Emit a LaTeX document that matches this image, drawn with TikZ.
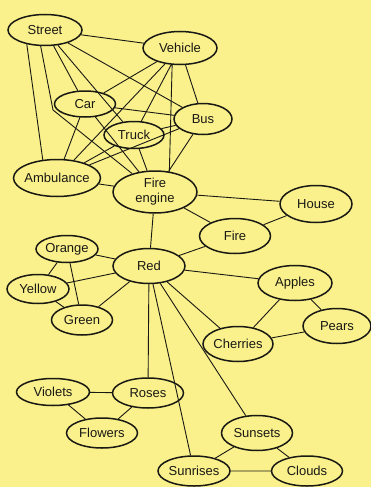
\documentclass[tikz,border=0pt]{standalone}
\usepackage{fontspec}
\setmainfont{Liberation Sans}
\usetikzlibrary{shapes.geometric}
\definecolor{paper}{RGB}{250,240,140}
\definecolor{ink}{RGB}{25,25,20}

\begin{document}
\begin{tikzpicture}[
	x=1pt, y=-1pt,
	word/.style={
		draw=ink, line width=1.5pt, ellipse, fill=paper,
		minimum width=71pt, minimum height=30pt,
		font=\fontsize{13}{15}\selectfont, text=ink, align=center, inner sep=0pt
	},
	link/.style={draw=ink, line width=0.9pt},
	]
	
	\fill[paper] (0,0) rectangle (371,487);
	\useasboundingbox (0,0) rectangle (371,487);
	
	\node[word, minimum width=74pt, minimum height=31pt] (street)  at (45,30)  {Street};
	\node[word, minimum width=74pt, minimum height=33pt] (vehicle) at (180,48) {Vehicle};
	\node[word, minimum width=61pt, minimum height=26pt] (car)     at (85,104) {Car};
	\node[word, minimum width=60pt, minimum height=27pt] (truck)   at (134,135) {Truck};
	\node[word, minimum width=58pt, minimum height=31pt] (bus)     at (203,119) {Bus};
	\node[word, minimum width=87pt, minimum height=37pt, inner xsep=-5pt] (ambulance) at (57,178) {Ambulance};
	\node[word, minimum width=84pt, minimum height=42pt] (fireengine) at (155,192) {Fire\\engine};
	\node[word, minimum width=72pt, minimum height=37pt] (house)   at (316,204) {House};
	\node[word, minimum width=71pt, minimum height=35pt] (fire)    at (235,236) {Fire};
	
	\node[word, minimum width=62pt, minimum height=27pt] (orange)  at (67,249)  {Orange};
	\node[word, minimum width=72pt, minimum height=35pt] (red)     at (149,266) {Red};
	\node[word, minimum width=62pt, minimum height=29pt] (yellow)  at (38,289)  {Yellow};
	\node[word, minimum width=61pt, minimum height=30pt] (green)   at (82,320)  {Green};
	\node[word, minimum width=74pt, minimum height=35pt] (apples)  at (295,283) {Apples};
	\node[word, minimum width=68pt, minimum height=35pt] (pears)   at (337,326) {Pears};
	\node[word, minimum width=70pt, minimum height=35pt] (cherries) at (238,344) {Cherries};
	
	\node[word, minimum width=73pt, minimum height=27pt] (violets) at (53,392)  {Violets};
	\node[word, minimum width=71pt, minimum height=30pt] (roses)   at (148,393) {Roses};
	\node[word, minimum width=71pt, minimum height=30pt] (flowers) at (102,433) {Flowers};
	\node[word, minimum width=71pt, minimum height=35pt] (sunsets) at (257,433) {Sunsets};
	\node[word, minimum width=72pt, minimum height=30pt] (sunrises) at (194,471) {Sunrises};
	\node[word, minimum width=71pt, minimum height=30pt] (clouds)  at (307,471) {Clouds};
	
	\coordinate (kink) at (53,110);
	
	\path[link] (street) -- (vehicle)
		(street.218) -- (ambulance.128)
		(street) -- (car)
		(street.255) -- (kink) -- (fireengine)
		(street) -- (truck)
		(street) -- (bus);
	\path[link] (vehicle) -- (car)
		(vehicle) -- (ambulance)
		(vehicle) -- (truck)
		(vehicle.245) -- (fireengine.55)
		(vehicle) -- (bus);
	\path[link] (car) -- (bus)
		(car) -- (ambulance)
		(car) -- (fireengine);
	\path[link] (truck) -- (bus)
		(truck) -- (ambulance)
		(truck) -- (fireengine);
	\path[link] (bus) -- (ambulance)
		(bus) -- (fireengine)
		(ambulance) -- (fireengine);
	\path[link] (fireengine) -- (house)
		(fireengine) -- (fire)
		(fireengine) -- (red)
		(house) -- (fire)
		(fire) -- (red);
	
	\path[link] (red) -- (orange)
		(red) -- (yellow)
		(red) -- (green)
		(orange) -- (yellow)
		(orange) -- (green)
		(yellow) -- (green);
	\path[link] (red) -- (apples)
		(red) -- (cherries)
		(apples) -- (cherries)
		(apples) -- (pears)
		(cherries) -- (pears);
	\path[link] (red) -- (roses)
		(red) -- (sunrises)
		(red) -- (sunsets)
		(roses) -- (violets)
		(roses) -- (flowers)
		(violets) -- (flowers)
		(sunsets) -- (sunrises)
		(sunsets) -- (clouds)
		(sunrises) -- (clouds);
	
\end{tikzpicture}
\end{document}
